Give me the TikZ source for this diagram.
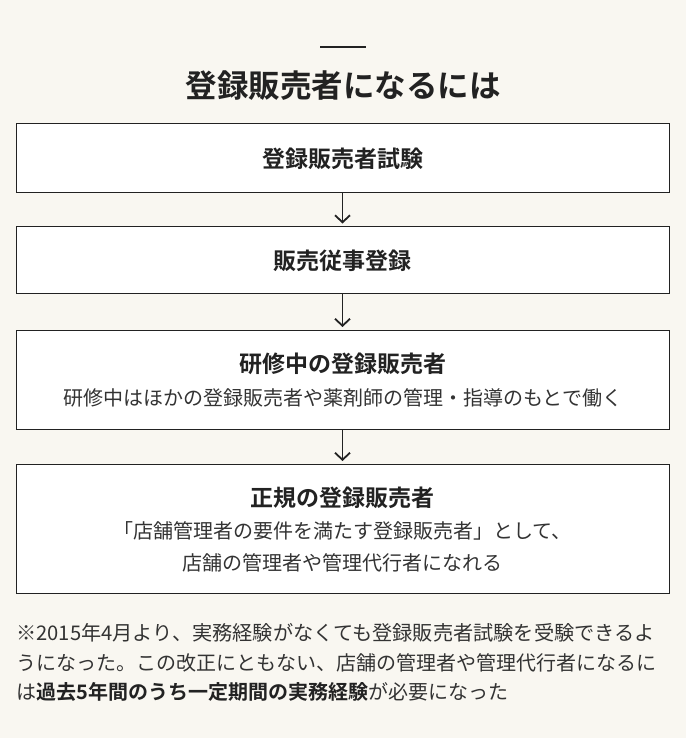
\documentclass[tikz,border=0pt]{standalone}
\usepackage{fontspec}
\setmainfont{Noto Sans CJK JP}[BoldFont={Noto Sans CJK JP Bold}]
\usetikzlibrary{arrows.meta}
\definecolor{bg}{HTML}{F9F7F1}
\definecolor{ink}{HTML}{222222}
\definecolor{txt}{HTML}{333333}
\tikzset{
  box/.style={draw=ink, line width=1pt, fill=white, minimum width=653pt, inner sep=0pt},
  headtxt/.style={text=ink, inner sep=0pt, font=\fontsize{23}{27}\selectfont\bfseries},
  bodytxt/.style={text=txt, inner sep=0pt, font=\fontsize{20}{24}\selectfont},
  flow/.style={draw=ink, line width=1.8pt, shorten >=2.5pt, -{Straight Barb[length=7pt,width=15pt,line width=1.8pt]}},
}
\begin{document}
\begin{tikzpicture}[x=1pt,y=-1pt]
\fill[bg] (0,0) rectangle (686,738);
\useasboundingbox (0,0) rectangle (686,738);
% title
\coordinate (barL) at (320,47);
\coordinate (barR) at (366,47);
\draw[ink, line width=2pt] (barL) -- (barR);
\node[text=ink, inner sep=0pt, font=\fontsize{31.5}{36}\selectfont\bfseries] (title) at (343,86) {登録販売者になるには};
% boxes
\node[box, minimum height=68pt] (b1) at (342.5,158) {};
\node[box, minimum height=67pt] (b2) at (342.5,260) {};
\node[box, minimum height=99pt] (b3) at (342.5,379.5) {};
\node[box, minimum height=129pt] (b4) at (342.5,528.5) {};
% texts
\node[headtxt] (t1) at (342.5,159) {登録販売者試験};
\node[headtxt] (t2) at (342.5,261) {販売従事登録};
\node[headtxt] (t3) at (342.5,364) {研修中の登録販売者};
\node[bodytxt] (s3) at (342.5,398) {研修中はほかの登録販売者や薬剤師の管理・指導のもとで働く};
\node[headtxt] (t4) at (342.5,498) {正規の登録販売者};
\node[bodytxt] (s4a) at (342.5,531) {「店舗管理者の要件を満たす登録販売者」として、};
\node[bodytxt] (s4b) at (342.5,563) {店舗の管理者や管理代行者になれる};
% arrows
\draw[flow] (b1.south) -- (b2.north);
\draw[flow] (b2.south) -- (b3.north);
\draw[flow] (b3.south) -- (b4.north);
% footnote
\node[bodytxt, anchor=west, font=\fontsize{20.2}{24}\selectfont] (n1) at (16,633) {※2015年4月より、実務経験がなくても登録販売者試験を受験できるよ};
\node[bodytxt, anchor=west] (n2) at (16,663) {うになった。この改正にともない、店舗の管理者や管理代行者になるに};
\node[bodytxt, anchor=west] (n3) at (16,692) {は\textcolor{ink}{\bfseries 過去5年間のうち一定期間の実務経験}が必要になった};
\end{tikzpicture}
\end{document}
